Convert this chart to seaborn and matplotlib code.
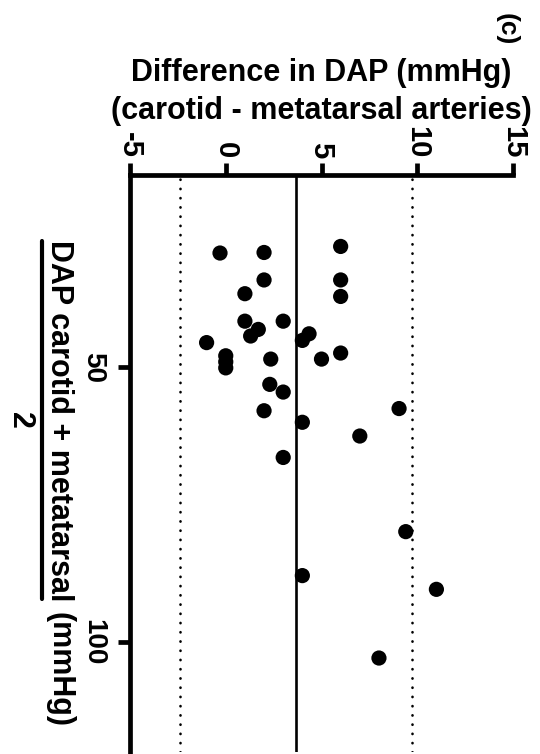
import matplotlib
matplotlib.use("Agg")
import matplotlib.pyplot as plt
from matplotlib.lines import Line2D
import seaborn as sns
import pandas as pd

# Bland-Altman data
mean_dap = [28.0, 29.1, 29.2, 34.1, 34.1, 36.6, 37.1, 41.6, 41.6, 43.1,
            43.9, 44.3, 45.1, 45.5, 47.4, 47.9, 48.5, 48.5, 49.0, 50.1,
            53.1, 54.5, 57.5, 57.9, 60.0, 62.5, 66.4, 79.9, 87.9, 90.4,
            102.9]
diff_dap = [6.0, 2.0, -0.3, 2.0, 6.0, 1.0, 6.0, 1.0, 3.0, 1.7,
            4.35, 1.3, 4.0, -1.0, 6.0, 0.0, 2.35, 5.0, 0.0, 0.0,
            2.3, 3.0, 9.05, 2.0, 4.0, 7.0, 3.0, 9.4, 4.0, 11.0,
            8.0]

bias = 3.65
lower_loa = -2.4
upper_loa = 9.7

diff_ticks = [-5, 0, 5, 10, 15]
diff_ticklabels = ["-5", "0", "5", "10", "15"]
mean_ticks = [50, 100]

df = pd.DataFrame({"diff": diff_dap, "mean": mean_dap})

sns.set_theme(style="white")
plt.rcParams["font.family"] = ["Liberation Sans", "DejaVu Sans"]
plt.rcParams.update({
    "text.color": "black",
    "axes.labelcolor": "black",
    "xtick.color": "black",
    "ytick.color": "black",
})

W, H = 540, 754
fig = plt.figure(figsize=(W / 100, H / 100), dpi=100)
ax = fig.add_axes([130 / W, 2 / H, 383 / W, 577 / H])

sns.scatterplot(data=df, x="diff", y="mean", color="black", s=120,
                edgecolor="none", ax=ax, zorder=3)

ax.axvline(bias, color="black", lw=1.9, zorder=2)
for v in (lower_loa, upper_loa):
    ax.axvline(v, color="black", lw=1.9, linestyle=(0, (0.1, 3.4)),
               dash_capstyle="round", zorder=2)

ax.set_xlim(-5, 15)
ax.set_ylim(120, 15)
ax.xaxis.tick_top()
ax.set_xticks(diff_ticks)
ax.set_xticklabels(diff_ticklabels, fontsize=21, fontweight="bold")
ax.set_yticks(mean_ticks)
ax.set_yticklabels([str(t) for t in mean_ticks], fontsize=20,
                   fontweight="bold")
plt.setp(ax.get_xticklabels(), rotation=-90)
plt.setp(ax.get_yticklabels(), rotation=-90, va="center")

for side in ("right", "bottom"):
    ax.spines[side].set_visible(False)
for side in ("top", "left"):
    ax.spines[side].set_linewidth(3.4)
    ax.spines[side].set_color("black")
ax.tick_params(axis="both", which="major", direction="out", length=9,
               width=3.4, color="black", labelcolor="black")
ax.tick_params(axis="x", top=True, bottom=False, pad=3)
ax.tick_params(axis="y", left=True, right=False, pad=8)
ax.grid(False)

ax.xaxis.set_label_position("top")
ax.set_xlabel("Difference in DAP (mmHg)\n(carotid - metatarsal arteries)",
              fontsize=22, fontweight="bold", linespacing=1.35, labelpad=5,
              color="black")
ax.set_ylabel("")

# panel tag
fig.text(507 / W, 1 - 29 / H, "(c)", rotation=-90, fontsize=19,
         fontweight="bold", ha="center", va="center", color="black")

# left axis label as a fraction: (carotid + metatarsal) / 2 (mmHg)
t_num = fig.text(59 / W, 1 - 240 / H, "DAP carotid + metatarsal",
                 rotation=-90, fontsize=22, fontweight="bold",
                 ha="center", va="top", color="black")
fig.canvas.draw()
bb = t_num.get_window_extent(fig.canvas.get_renderer())
fig.text(59 / W, (bb.y0 - 11) / H, "(mmHg)", rotation=-90, fontsize=22,
         fontweight="bold", ha="center", va="top", color="black")
fig.add_artist(Line2D([42 / W, 42 / W], [(bb.y0 + 2) / H, (bb.y1 - 1) / H],
                      transform=fig.transFigure, color="black", lw=3))
fig.text(20 / W, (bb.y0 + bb.y1) / 2 / H, "2", rotation=-90, fontsize=22,
         fontweight="bold", ha="center", va="center", color="black")

fig.savefig("out.png", dpi=100)
